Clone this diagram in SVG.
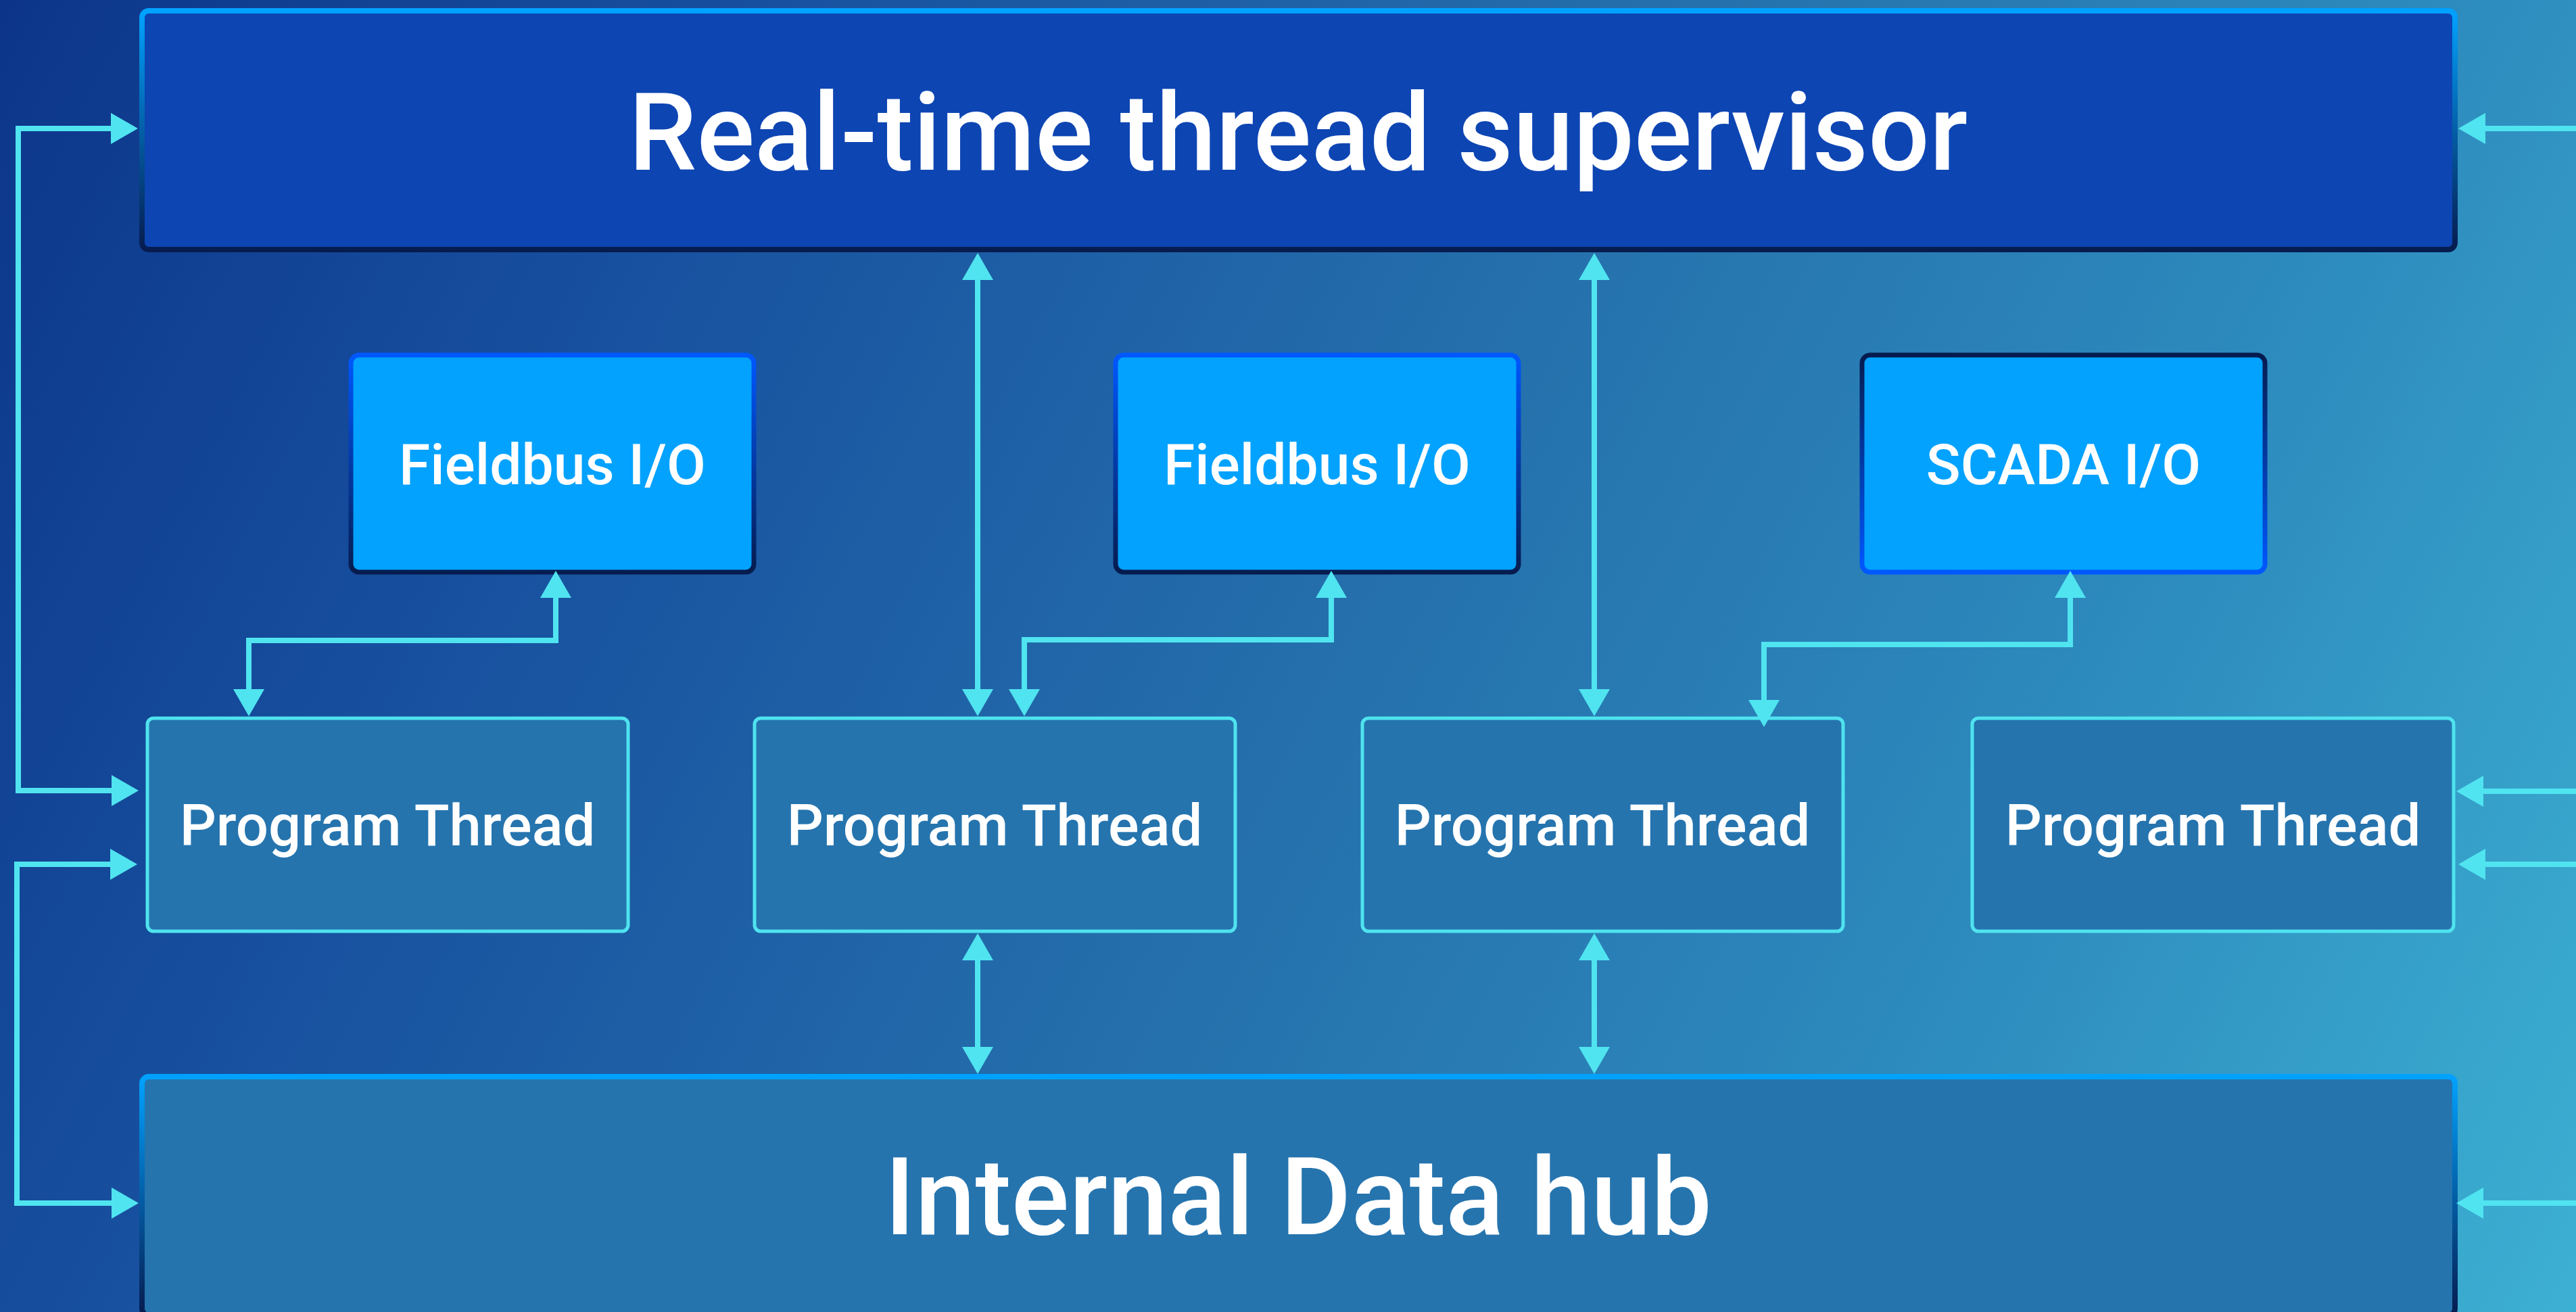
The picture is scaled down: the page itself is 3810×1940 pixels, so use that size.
<svg xmlns="http://www.w3.org/2000/svg" width="3810" height="1940" viewBox="0 0 3810 1940">
  <defs>
    <linearGradient id="bg" gradientUnits="userSpaceOnUse" x1="0" y1="0" x2="3810" y2="1940">
      <stop offset="0" stop-color="#0c3589"/>
      <stop offset="0.25" stop-color="#1852a0"/>
      <stop offset="0.5" stop-color="#246eab"/>
      <stop offset="0.75" stop-color="#2d8abd"/>
      <stop offset="1" stop-color="#3cb0d2"/>
    </linearGradient>
    <linearGradient id="strokeMain" x1="0" y1="0" x2="0" y2="1">
      <stop offset="0" stop-color="#00a2ff"/>
      <stop offset="1" stop-color="#061c4f"/>
    </linearGradient>
    <linearGradient id="strokeIO" x1="0" y1="0" x2="0" y2="1">
      <stop offset="0" stop-color="#0058ff"/>
      <stop offset="1" stop-color="#061c4f"/>
    </linearGradient>
    <linearGradient id="strokeIOrev" x1="0" y1="0" x2="0" y2="1">
      <stop offset="0" stop-color="#061c4f"/>
      <stop offset="1" stop-color="#0058ff"/>
    </linearGradient>
    <marker id="ah" markerUnits="userSpaceOnUse" markerWidth="40" markerHeight="46" refX="0" refY="23" orient="auto-start-reverse" viewBox="0 0 40 46">
      <path d="M0,0 L40,23 L0,46 Z" fill="#50e4f0"/>
    </marker>
    <style>
      .main { fill: #0d45b3; stroke: url(#strokeMain); stroke-width: 8; }
      .hub { fill: #2574ae; stroke: url(#strokeMain); stroke-width: 8; }
      .io { fill: #03a2fe; stroke: url(#strokeIO); stroke-width: 7; }
      .io2 { fill: #03a2fe; stroke: url(#strokeIOrev); stroke-width: 7; }
      .pt { fill: #2574ae; stroke: #4fe3ef; stroke-width: 5; }
      .t { fill: #ffffff; font-family: Roboto, "Liberation Sans", sans-serif; text-anchor: middle; font-weight: 500; }
      .big { font-size: 160px; }
      .mid { font-size: 85px; }
      .small { font-size: 84px; }
      .c { fill: none; stroke: #50e4f0; stroke-width: 8; }
      .cb { marker-start: url(#ah); marker-end: url(#ah); }
      .ce { marker-end: url(#ah); }
    </style>
  </defs>
  <rect x="0" y="0" width="3810" height="1940" fill="url(#bg)"/>

  <g id="supervisor">
    <rect class="main" x="210" y="16" width="3421" height="353" rx="10"/>
    <text class="t big" x="1920" y="251">Real-time thread supervisor</text>
  </g>

  <g id="fieldbus1">
    <rect class="io" x="519" y="525" width="596" height="321" rx="12"/>
    <text class="t small" x="817" y="716">Fieldbus I/O</text>
  </g>
  <g id="fieldbus2">
    <rect class="io" x="1650" y="525" width="596" height="321" rx="12"/>
    <text class="t small" x="1948" y="716">Fieldbus I/O</text>
  </g>
  <g id="scada">
    <rect class="io2" x="2754" y="525" width="596" height="321" rx="12"/>
    <text class="t small" x="3052" y="716">SCADA I/O</text>
  </g>

  <g id="thread1">
    <rect class="pt" x="218" y="1062" width="711" height="315" rx="9"/>
    <text class="t mid" x="573" y="1250">Program Thread</text>
  </g>
  <g id="thread2">
    <rect class="pt" x="1116" y="1062" width="711" height="315" rx="9"/>
    <text class="t mid" x="1471" y="1250">Program Thread</text>
  </g>
  <g id="thread3">
    <rect class="pt" x="2015" y="1062" width="711" height="315" rx="9"/>
    <text class="t mid" x="2370" y="1250">Program Thread</text>
  </g>
  <g id="thread4">
    <rect class="pt" x="2917" y="1062" width="712" height="315" rx="9"/>
    <text class="t mid" x="3273" y="1250">Program Thread</text>
  </g>

  <g id="datahub">
    <rect class="hub" x="210" y="1592" width="3421" height="353" rx="10"/>
    <text class="t big" x="1920" y="1825">Internal Data hub</text>
  </g>

  <g id="connectors">
    <path class="c cb" d="M164,190 H27 V1169 H165"/>
    <path class="c cb" d="M163,1278 H25 V1779 H165"/>
    <path class="c ce" d="M3810,190 H3676"/>
    <path class="c ce" d="M3810,1170 H3673"/>
    <path class="c ce" d="M3810,1278 H3676"/>
    <path class="c ce" d="M3810,1779 H3673"/>
    <path class="c cb" d="M1446,414 V1019"/>
    <path class="c cb" d="M2358,414 V1019"/>
    <path class="c cb" d="M822,884 V947 H368 V1019"/>
    <path class="c cb" d="M1969,884 V946 H1515 V1019"/>
    <path class="c cb" d="M3062,884 V953 H2609 V1035"/>
    <path class="c cb" d="M1446,1420 V1548"/>
    <path class="c cb" d="M2358,1420 V1548"/>
  </g>
</svg>
